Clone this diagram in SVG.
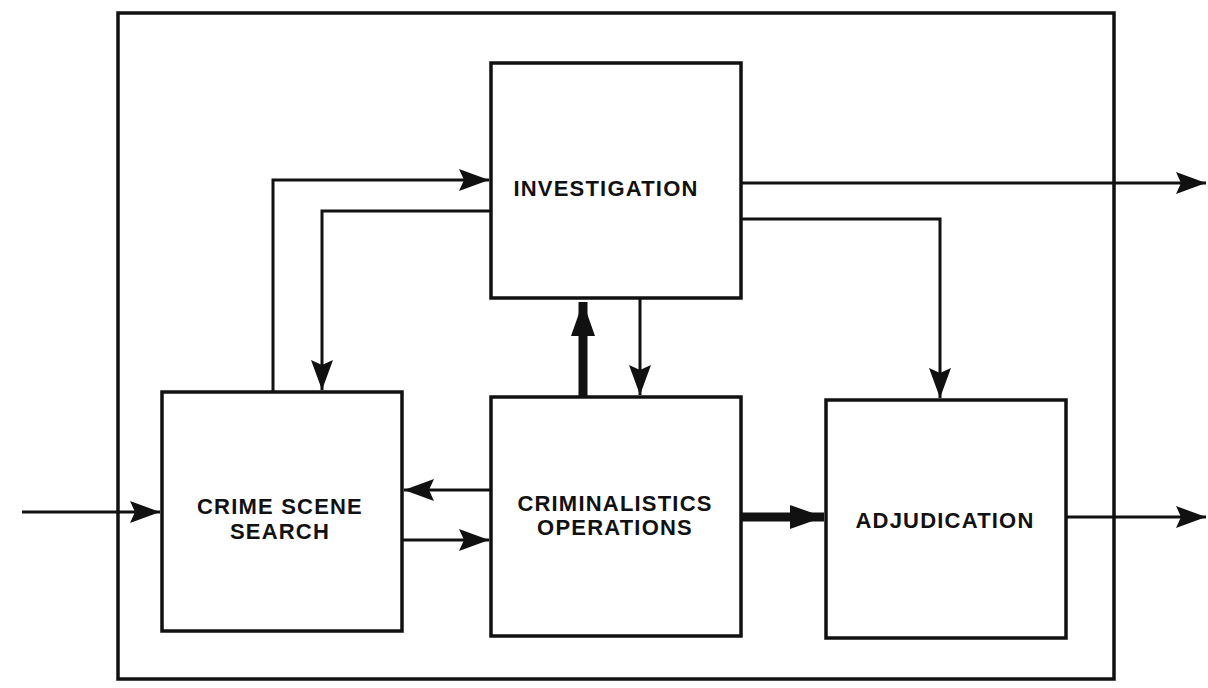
<svg xmlns="http://www.w3.org/2000/svg" width="1208" height="688" viewBox="0 0 1208 688">
<style>
.box{fill:#fff;stroke:#111;stroke-width:3.5}
.frame{fill:none;stroke:#111;stroke-width:3.5}
.ln{fill:none;stroke:#111;stroke-width:3}
.thick{fill:none;stroke:#111;stroke-width:9}
.lbl{font-family:"Liberation Sans",Arial,sans-serif;font-weight:bold;font-size:22px;letter-spacing:1.2px;fill:#111;text-anchor:middle}
</style>
<defs>
<marker id="ah" markerUnits="userSpaceOnUse" markerWidth="32" markerHeight="26" refX="30" refY="13" orient="auto">
<path d="M0,2 L30,13 L0,24 L5,13 Z" fill="#111"/>
</marker>
<marker id="ahT" markerUnits="userSpaceOnUse" markerWidth="36" markerHeight="28" refX="34" refY="14" orient="auto">
<path d="M0,2 L34,14 L0,26 Z" fill="#111"/>
</marker>
</defs>
<rect x="0" y="0" width="1208" height="688" fill="#fff"/>
<rect class="frame" x="118" y="13" width="996" height="666"/>
<g id="connectors">
<path class="ln" d="M273,392 V180 H489" marker-end="url(#ah)"/>
<path class="ln" d="M491,211 H322 V390" marker-end="url(#ah)"/>
<path class="thick" d="M583,397 V302" marker-end="url(#ahT)"/>
<path class="ln" d="M640,298 V395" marker-end="url(#ah)"/>
<path class="ln" d="M741,183 H1206" marker-end="url(#ah)"/>
<path class="ln" d="M741,219 H940 V398" marker-end="url(#ah)"/>
<path class="ln" d="M491,490 H404" marker-end="url(#ah)"/>
<path class="ln" d="M402,540 H489" marker-end="url(#ah)"/>
<path class="thick" d="M741,517 H824" marker-end="url(#ahT)"/>
<path class="ln" d="M1066,517 H1206" marker-end="url(#ah)"/>
<path class="ln" d="M22,512 H160" marker-end="url(#ah)"/>
</g>
<g id="investigation">
<rect class="box" x="491" y="63" width="250" height="235"/>
<text class="lbl" x="606" y="196">INVESTIGATION</text>
</g>
<g id="crime-scene-search">
<rect class="box" x="162" y="392" width="240" height="239"/>
<text class="lbl" x="280" y="514">CRIME SCENE</text>
<text class="lbl" x="280" y="539">SEARCH</text>
</g>
<g id="criminalistics-operations">
<rect class="box" x="491" y="397" width="250" height="239"/>
<text class="lbl" x="615" y="511">CRIMINALISTICS</text>
<text class="lbl" x="615" y="535">OPERATIONS</text>
</g>
<g id="adjudication">
<rect class="box" x="826" y="400" width="240" height="238"/>
<text class="lbl" x="945" y="528">ADJUDICATION</text>
</g>
</svg>
